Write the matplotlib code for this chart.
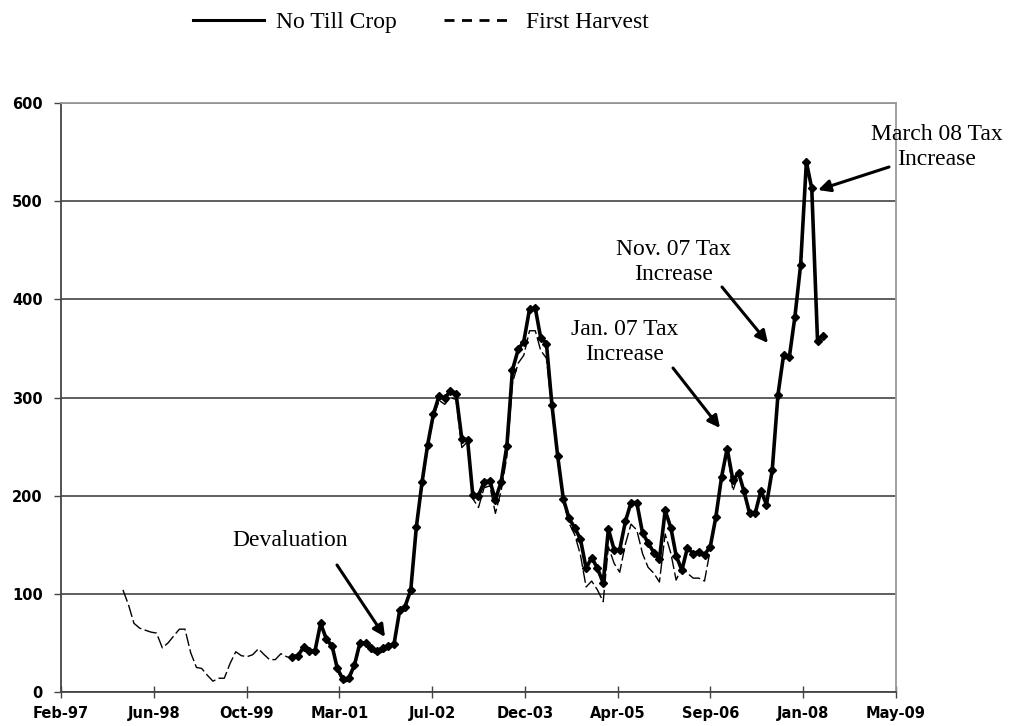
import pandas as pd
import matplotlib
matplotlib.use('Agg')
from matplotlib import pyplot as plt
from matplotlib.lines import Line2D
import matplotlib.dates as mdates

# monthly prices
harvest_start = '1998-01-01'
first_harvest = [104, 88, 70, 65, 63, 61, 60, 45, 50, 57, 64, 64,
                 40, 25, 24, 17, 11, 14, 14, 29, 41, 37, 36, 38,
                 44, 38, 33, 33, 39, 36, 34, 36, 44, 40, 40, 68,
                 52, 45, 22, 10, 11, 25, 48, 48, 42, 38, 41, 44,
                 47, 83, 86, 103, 165, 210, 248, 280, 297, 293, 300, 298,
                 249, 255, 197, 188, 208, 210, 182, 205, 240, 315, 335, 343,
                 368, 368, 348, 340, 288, 236, 194, 172, 160, 140, 107, 113,
                 104, 92, 148, 131, 122, 151, 171, 165, 141, 127, 121, 112,
                 161, 141, 114, 127, 121, 116, 116, 113, 145, 176, 217, 246,
                 205, 222]

notill_start = '2000-07-01'
no_till = [36, 37, 46, 42, 42, 70, 54, 47, 24, 13, 14, 27,
           50, 50, 45, 42, 45, 47, 49, 84, 87, 104, 168, 214,
           252, 283, 302, 299, 307, 304, 258, 257, 201, 200, 214, 215,
           196, 214, 251, 328, 349, 357, 390, 391, 361, 355, 292, 240,
           197, 177, 167, 156, 126, 137, 126, 111, 166, 145, 145, 174,
           193, 193, 162, 152, 142, 135, 185, 167, 139, 124, 147, 141,
           143, 140, 148, 178, 219, 248, 216, 223, 205, 182, 182, 205,
           191, 226, 303, 343, 341, 382, 435, 540, 513, 358, 363]

harvest_dates = pd.date_range(harvest_start, periods=len(first_harvest), freq='MS')
notill_dates = pd.date_range(notill_start, periods=len(no_till), freq='MS')

x_start = pd.Timestamp('1997-02-01')
tick_dates = [x_start + pd.Timedelta(days=500 * i) for i in range(10)]

W, H = 1011, 726
fig = plt.figure(figsize=(W / 100, H / 100), dpi=100)
ax = fig.add_axes([61 / W, 1 - 692 / H, (896 - 61) / W, (692 - 103) / H])

ax.plot(harvest_dates, first_harvest, color='black', lw=1.0,
        linestyle=(0, (9, 2.5)), zorder=2)
ax.plot(notill_dates, no_till, color='black', lw=2.6, marker='D',
        markersize=4.5, zorder=3)

ax.set_xlim(tick_dates[0], tick_dates[-1])
ax.set_ylim(0, 600)
ax.set_xticks(tick_dates)
ax.xaxis.set_major_formatter(mdates.DateFormatter('%b-%y'))
ax.set_yticks(range(0, 601, 100))
ax.yaxis.grid(True, color='#333333', lw=1.1)
ax.set_axisbelow(True)

for s in ['top', 'right']:
    ax.spines[s].set_color('#9a9a9a')
    ax.spines[s].set_linewidth(1.3)
for s in ['left', 'bottom']:
    ax.spines[s].set_color('#444444')
    ax.spines[s].set_linewidth(1.3)

ax.tick_params(axis='x', direction='inout', length=8, width=1, color='#444444', pad=6)
ax.tick_params(axis='y', direction='out', length=5, width=1, color='#444444', pad=8)
for lab in ax.get_xticklabels() + ax.get_yticklabels():
    lab.set_fontfamily('DejaVu Sans')
    lab.set_fontweight('bold')
    lab.set_fontsize(10.5)

serif = 'Liberation Serif'
legend_handles = [Line2D([], [], color='black', lw=2.2),
                  Line2D([], [], color='black', lw=2.0, linestyle=(0, (3.6, 2.7)))]
fig.legend(legend_handles, ['No Till Crop', 'First Harvest'], loc='center',
           bbox_to_anchor=(421 / W, 1 - 22 / H), ncol=2, frameon=False,
           prop={'family': serif, 'size': 17},
           handlelength=3.0, columnspacing=2.0, handletextpad=0.5)


def px(x, y):
    return (x, H - y)


arrow = dict(arrowstyle='-|>', lw=2.2, color='black', mutation_scale=18, shrinkA=0, shrinkB=0)
notes = [
    ('Devaluation', (290, 541), (337, 565), (385, 637)),
    ('Jan. 07 Tax\nIncrease', (625, 342), (673, 368), (720, 428)),
    ('Nov. 07 Tax\nIncrease', (674, 262), (722, 287), (768, 343)),
    ('March 08 Tax\nIncrease', (937, 147), (889, 167), (818, 190)),
]
for text, pos, start, tip in notes:
    fig.text(pos[0] / W, 1 - pos[1] / H, text, ha='center', va='center',
             family=serif, fontsize=17, linespacing=1.2)
    ax.annotate('', xy=px(*tip), xycoords='figure pixels',
                xytext=px(*start), textcoords='figure pixels', arrowprops=arrow)

fig.savefig('out.png', dpi=100)
